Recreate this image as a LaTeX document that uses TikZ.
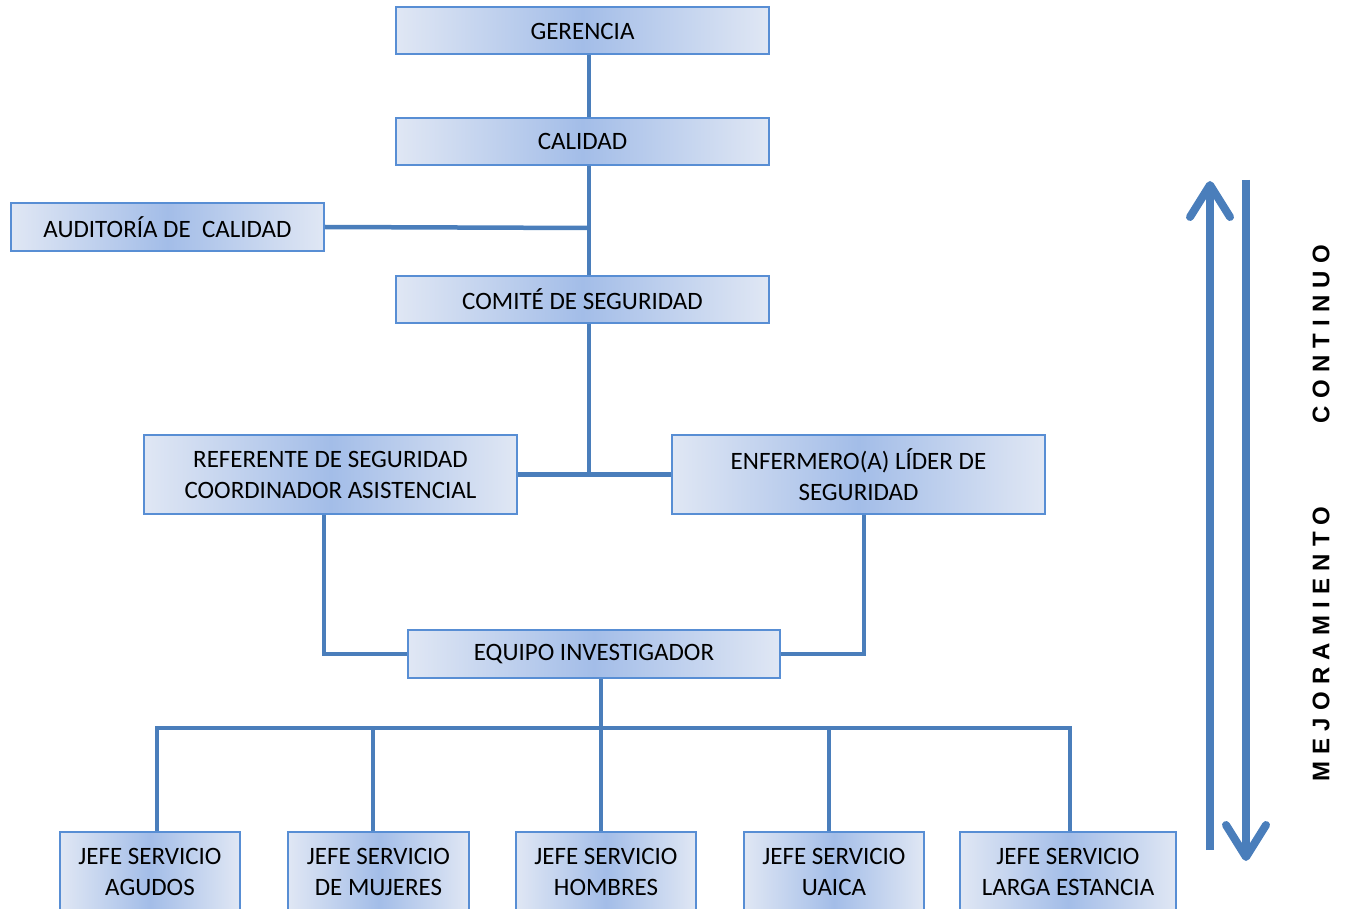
\documentclass[tikz,border=0pt]{standalone}
\usepackage{fontspec}
\setmainfont{Carlito}
\newfontfamily\sidefont[LetterSpace=30]{Liberation Sans}
\usetikzlibrary{arrows.meta}
\definecolor{lnc}{RGB}{74,126,187}
\definecolor{bdc}{RGB}{88,142,212}
\definecolor{fe}{RGB}{224,231,244}
\definecolor{fm}{RGB}{163,189,232}
\begin{document}
\begin{tikzpicture}[x=1pt,y=-1pt,
  box/.style={draw=bdc, line width=2pt, left color=fe, right color=fe, middle color=fm,
    minimum height=47pt, inner sep=0pt, align=center, text=black,
    font=\fontsize{25}{31}\selectfont},
  conn/.style={draw=lnc, line width=4.5pt},
  big/.style={draw=lnc, line width=8pt},
  side/.style={rotate=90, inner sep=0pt, font=\sidefont\bfseries\fontsize{24}{24}\selectfont}]
\useasboundingbox (0,0) rectangle (1347,909);
\clip (0,0) rectangle (1347,909);
% boxes
\node[box, minimum width=373pt] (ger) at (582.5,31) {GERENCIA};
\node[box, minimum width=373pt] (cal) at (582.5,141.5) {CALIDAD};
\node[box, minimum width=313pt, minimum height=48pt] (aud) at (167.5,227) {AUDITORÍA DE\ \ CALIDAD};
\node[box, minimum width=373pt] (com) at (582.5,299.5) {COMITÉ DE SEGURIDAD};
\node[box, minimum width=373pt, minimum height=79pt] (ref) at (330.5,474.5) {REFERENTE DE SEGURIDAD\\COORDINADOR ASISTENCIAL};
\node[box, minimum width=373pt, minimum height=79pt] (enf) at (858.5,474.5) {ENFERMERO(A) LÍDER DE\\SEGURIDAD};
\node[box, minimum width=372pt, minimum height=48pt] (equ) at (594,654) {EQUIPO INVESTIGADOR};
\node[box, minimum width=180pt, minimum height=80pt] (b1) at (150,872) {JEFE SERVICIO\\AGUDOS};
\node[box, minimum width=181pt, minimum height=80pt] (b2) at (378.5,872) {JEFE SERVICIO\\DE MUJERES};
\node[box, minimum width=180pt, minimum height=80pt] (b3) at (606,872) {JEFE SERVICIO\\HOMBRES};
\node[box, minimum width=180pt, minimum height=80pt] (b4) at (834,872) {JEFE SERVICIO\\UAICA};
\node[box, minimum width=216pt, minimum height=80pt] (b5) at (1068,872) {JEFE SERVICIO\\LARGA ESTANCIA};
% connectors
\coordinate (j1) at (589,228);
\coordinate (j2) at (589,475);
\coordinate (bus) at (601,728);
\draw[conn] ([xshift=6.5pt]ger.south) -- ([xshift=6.5pt]cal.north);
\draw[conn] ([xshift=6.5pt]cal.south) -- ([xshift=6.5pt]com.north);
\draw[conn] (aud.east) -- (j1);
\draw[conn] ([xshift=6.5pt]com.south) -- (j2);
\draw[conn] (ref.east) -- (enf.west);
\draw[conn] ([xshift=-6.5pt]ref.south) |- (equ.west);
\draw[conn] ([xshift=5.5pt]enf.south) |- (equ.east);
\draw[conn] ([xshift=7pt]equ.south) -- (bus);
\draw[conn] (bus) -| ([xshift=7pt]b1.north);
\draw[conn] (bus) -| ([xshift=-5.5pt]b2.north);
\draw[conn] (bus) -- ([xshift=-5pt]b3.north);
\draw[conn] (bus) -| ([xshift=-5pt]b4.north);
\draw[conn] (bus) -| ([xshift=2pt]b5.north);
% improvement arrows
\coordinate (u1) at (1210,850);
\coordinate (u2) at (1210,181);
\coordinate (d1) at (1246,180);
\coordinate (d2) at (1246,861);
\draw[big, -{Straight Barb[length=32pt,width=40pt,round]}] (u1) -- (u2);
\draw[big, -{Straight Barb[length=32pt,width=40pt,round]}] (d1) -- (d2);
\node[side] (t1) at (1321,644) {MEJORAMIENTO};
\node[side] (t2) at (1321,334) {CONTINUO};
\end{tikzpicture}
\end{document}
